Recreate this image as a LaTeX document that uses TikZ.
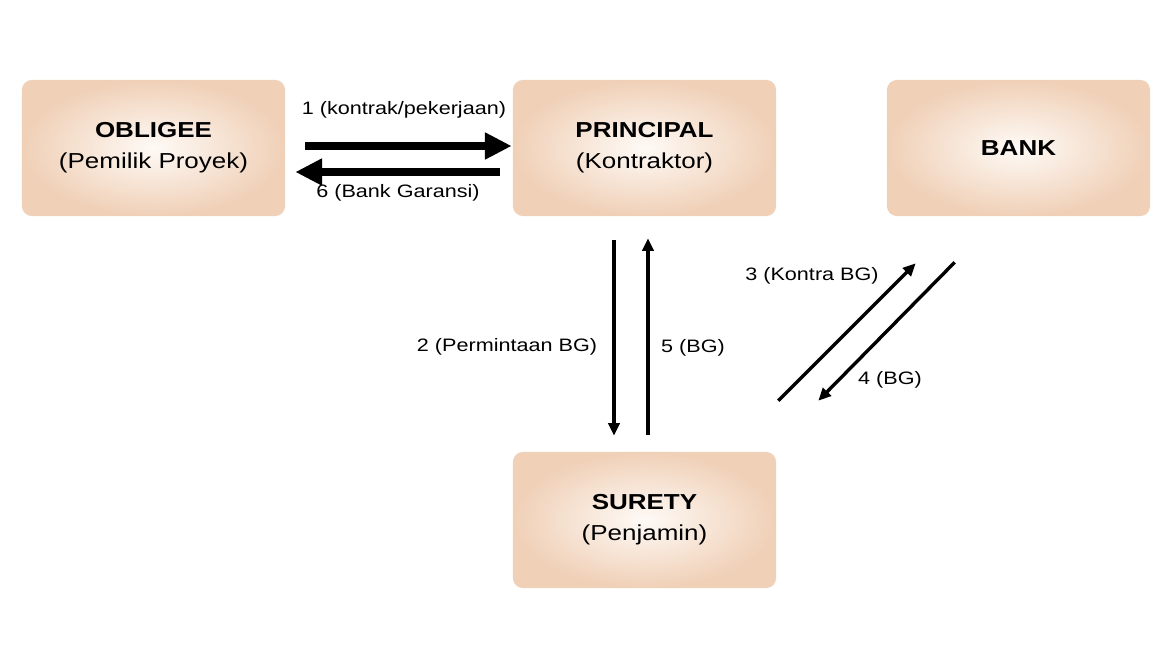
\documentclass[tikz,border=0pt]{standalone}
\usepackage{fontspec}
\setmainfont{Liberation Sans}[FakeStretch=1.2]
\usetikzlibrary{arrows.meta}
\definecolor{boxtan}{RGB}{240,208,183}
\definecolor{boxlight}{RGB}{254,250,246}
\begin{document}
\begin{tikzpicture}[
    x=0.025cm, y=-0.025cm,
    party/.style={rounded corners=7pt, inner color=boxlight, outer color=boxtan,
        minimum width=6.575cm, minimum height=3.4cm, align=center,
        font=\fontsize{15.4}{22}\selectfont},
    flow/.style={line width=5.8pt, -{Triangle[length=19pt,width=18pt]}},
    pass/.style={line width=2.4pt, -{Triangle[length=9pt,width=8pt]}},
    lbl/.style={font=\fontsize{12.8}{15}\selectfont, inner sep=0pt}
]
    % canvas
    \fill[white] (0,0) rectangle (1170,657);
    % parties
    \node[party] (obligee) at (153.5,148) {\textbf{OBLIGEE}\\(Pemilik Proyek)};
    \node[party] (principal) at (644.5,148) {\textbf{PRINCIPAL}\\(Kontraktor)};
    \node[party] (bank) at (1018.5,148) {\textbf{BANK}};
    \node[party] (surety) at (644.5,520) {\textbf{SURETY}\\(Penjamin)};
    % obligee - principal
    \draw[flow] ([shift={(20,-2)}]obligee.east) -- ([shift={(-1,-2)}]principal.west);
    \draw[flow] ([shift={(-13,24)}]principal.west) -- ([shift={(10,24)}]obligee.east);
    \node[lbl] (l1) at (404,110) {1 (kontrak/pekerjaan)};
    \node[lbl] (l6) at (398,193) {6 (Bank Garansi)};
    % principal - surety
    \draw[pass] ([shift={(-30.5,24)}]principal.south) -- ([shift={(-30.5,-16)}]surety.north);
    \draw[pass] ([shift={(3.5,-17)}]surety.north) -- ([shift={(3.5,22)}]principal.south);
    \node[lbl] (l2) at (507,347) {2 (Permintaan BG)};
    \node[lbl] (l5) at (693,348) {5 (BG)};
    % surety - bank
    \draw[pass] ([shift={(2,-51)}]surety.north east) -- ([shift={(29,47)}]bank.south west);
    \draw[pass] ([shift={(68,46)}]bank.south west) -- ([shift={(42,-51)}]surety.north east);
    \node[lbl] (l3) at (812,276) {3 (Kontra BG)};
    \node[lbl] (l4) at (890,380) {4 (BG)};
\end{tikzpicture}
\end{document}
